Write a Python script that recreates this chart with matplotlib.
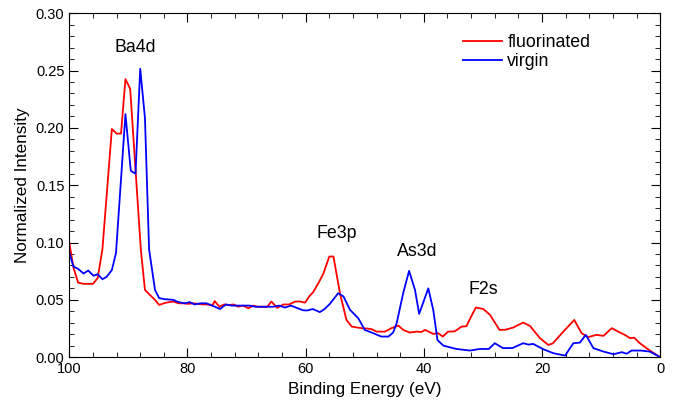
import numpy as np
import matplotlib
matplotlib.use("Agg")
import matplotlib.pyplot as plt
from matplotlib.ticker import MultipleLocator

plt.rcParams['font.family'] = ['Liberation Sans', 'DejaVu Sans']

# fluorinated sample (red)
fluor_E = [100, 99.3, 98.5, 97.6, 96.8, 96.0, 95.2, 94.4, 92.8, 92.0, 91.25, 90.5, 89.7,
           87.9, 87.2, 86.3, 85.5, 84.8, 84.0, 83.2, 82.4, 81.5, 80.7, 79.9, 79.0, 78.2,
           77.4, 76.6, 75.8, 75.4, 74.6, 73.8, 73.0, 72.2, 71.4, 70.6, 69.7, 68.9, 68.1,
           67.3, 66.5, 65.8, 64.8, 63.8, 62.8, 61.8, 61.0, 60.1, 59.4, 58.7, 57.8, 57.0,
           56.0, 55.3, 54.2, 53.1, 52.2, 51.4, 50.5, 49.6, 48.8, 48.0, 47.2, 46.6, 45.5,
           44.3, 43.5, 42.4, 41.2, 40.4, 39.8, 38.4, 37.6, 36.8, 35.9, 34.8, 33.6, 32.8,
           32.0, 31.2, 29.95, 28.8, 27.2, 26.2, 24.9, 23.2, 22.05, 20.35, 18.95, 18.2,
           16.4, 14.55, 13.3, 12.2, 10.8, 9.6, 8.2, 7.1, 6.0, 5.1, 4.4, 3.45, 1.75, 0]
fluor_I = [0.100, 0.078, 0.065, 0.064, 0.064, 0.064, 0.069, 0.094, 0.199, 0.195, 0.195,
           0.2425, 0.234, 0.094, 0.0587, 0.054, 0.050, 0.0456, 0.047, 0.048, 0.0485,
           0.047, 0.047, 0.0465, 0.047, 0.0465, 0.046, 0.046, 0.045, 0.049, 0.044, 0.046,
           0.0455, 0.046, 0.044, 0.045, 0.0427, 0.045, 0.044, 0.044, 0.044, 0.0485, 0.043,
           0.046, 0.046, 0.0485, 0.0486, 0.0476, 0.053, 0.057, 0.065, 0.073, 0.0878,
           0.0878, 0.0558, 0.0325, 0.0267, 0.026, 0.0253, 0.025, 0.0244, 0.0223, 0.0223,
           0.0223, 0.0253, 0.0276, 0.0238, 0.0215, 0.0223, 0.022, 0.0238, 0.0203, 0.021,
           0.018, 0.0223, 0.0225, 0.0267, 0.027, 0.0354, 0.0433, 0.0421, 0.0369, 0.0238,
           0.024, 0.0258, 0.0302, 0.0273, 0.0166, 0.0107, 0.012, 0.0223, 0.0325, 0.0209,
           0.0175, 0.0195, 0.0186, 0.0253, 0.0223, 0.0195, 0.0166, 0.017, 0.0122, 0.0058,
           0.0]

# virgin sample (blue)
virgin_E = [100, 99.3, 98.5, 97.6, 96.8, 95.9, 95.2, 94.4, 93.7, 92.8, 92.1, 90.5, 89.6,
            88.8, 88.0, 87.2, 86.5, 85.5, 84.8, 83.8, 82.4, 81.5, 80.5, 79.6, 78.8, 77.8,
            76.8, 75.8, 74.5, 73.5, 72.5, 71.5, 70.5, 69.5, 68.5, 67.5, 66.5, 65.5, 64.5,
            63.5, 62.5, 61.5, 60.5, 59.8, 58.8, 57.6, 56.8, 55.9, 54.5, 53.6, 52.5, 51.1,
            50.0, 48.6, 47.2, 46.0, 45.2, 44.6, 43.5, 42.5, 41.5, 40.8, 39.25, 38.4, 37.7,
            36.7, 34.5, 32.2, 30.5, 29.0, 28.0, 26.6, 25.0, 23.2, 22.3, 21.5, 19.8, 18.1,
            16.1, 14.7, 13.6, 12.6, 11.3, 9.6, 7.9, 6.5, 5.7, 4.85, 3.3, 1.75, 0]
virgin_I = [0.091, 0.079, 0.077, 0.073, 0.0756, 0.071, 0.0724, 0.068, 0.070, 0.076, 0.091,
            0.212, 0.1626, 0.160, 0.2515, 0.2085, 0.094, 0.0587, 0.0515, 0.0506, 0.050,
            0.048, 0.047, 0.048, 0.046, 0.047, 0.047, 0.045, 0.042, 0.046, 0.045, 0.045,
            0.045, 0.045, 0.044, 0.044, 0.044, 0.044, 0.045, 0.0433, 0.045, 0.043, 0.041,
            0.0407, 0.042, 0.0393, 0.042, 0.0465, 0.0558, 0.053, 0.0413, 0.034, 0.0238,
            0.021, 0.018, 0.018, 0.0215, 0.0297, 0.0558, 0.0753, 0.0587, 0.0378, 0.060,
            0.041, 0.015, 0.0101, 0.0072, 0.0058, 0.0072, 0.0072, 0.0122, 0.0079, 0.008,
            0.0122, 0.011, 0.0116, 0.007, 0.0035, 0.0014, 0.0122, 0.0127, 0.0195, 0.0079,
            0.0049, 0.0026, 0.0044, 0.003, 0.0058, 0.0058, 0.0049, 0.0]

peak_labels = ["Ba4d", "Fe3p", "As3d", "F2s"]
peak_pos = [(88.9, 0.27), (54.8, 0.108), (41.2, 0.092), (30.0, 0.059)]

fig = plt.figure(figsize=(6.73, 4.12), dpi=100)
ax = fig.add_axes([0.103, 0.133, 0.878, 0.835])

ax.plot(fluor_E, fluor_I, color='#ff0000', lw=1.3, label='fluorinated')
ax.plot(virgin_E, virgin_I, color='#0000ff', lw=1.3, label='virgin')

for lab, (e, v) in zip(peak_labels, peak_pos):
    ax.text(e, v, lab, ha='center', va='center', fontsize=12.8)

ax.set_xlim(100, 0)
ax.set_ylim(0, 0.30)
ax.xaxis.set_major_locator(MultipleLocator(20))
ax.xaxis.set_minor_locator(MultipleLocator(4))
ax.yaxis.set_major_locator(MultipleLocator(0.05))
ax.yaxis.set_minor_locator(MultipleLocator(0.01))
ax.yaxis.set_major_formatter(plt.FuncFormatter(lambda v, p: f"{v:.2f}"))
ax.tick_params(which='both', direction='in', top=True, right=True, labelsize=10.5)
ax.tick_params(which='major', length=6.5)
ax.tick_params(which='minor', length=3.5)

ax.set_xlabel('Binding Energy (eV)', fontsize=12.3)
ax.set_ylabel('Normalized Intensity', fontsize=12.3)

ax.legend(loc='upper left', bbox_to_anchor=(0.651, 0.966), frameon=False, borderpad=0,
          fontsize=12.8, handlelength=2.2, handletextpad=0.3, labelspacing=0.15)

fig.savefig('out.png', dpi=100)
